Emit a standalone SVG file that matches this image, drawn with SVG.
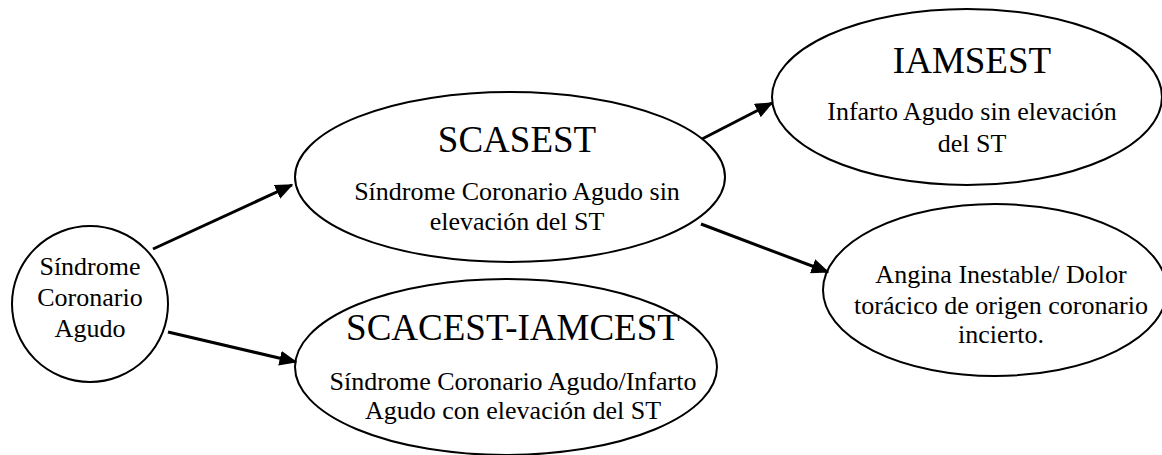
<svg xmlns="http://www.w3.org/2000/svg" width="1162" height="455" viewBox="0 0 1162 455">
<style>
.node{fill:#fff;stroke:#000;stroke-width:2}
.t{font-family:'Liberation Serif','Times New Roman',serif;font-size:37px;fill:#000;text-anchor:middle}
.b{font-family:'Liberation Serif','Times New Roman',serif;font-size:26px;fill:#000;text-anchor:middle}
.edge{stroke:#000;stroke-width:3;fill:none;marker-end:url(#ah)}
</style>
<defs>
<marker id="ah" markerWidth="6" markerHeight="5" refX="5.5" refY="2.5" orient="auto" markerUnits="strokeWidth">
<path d="M0,0 L6,2.5 L0,5 Z" fill="#000"/>
</marker>
</defs>
<rect width="1162" height="455" fill="#fff"/>
<g id="sca">
<ellipse class="node" cx="90" cy="304" rx="78" ry="78"/>
<text class="b" x="90" y="275">Síndrome</text>
<text class="b" x="90" y="306">Coronario</text>
<text class="b" x="90" y="337">Agudo</text>
</g>
<g id="scasest">
<ellipse class="node" cx="510" cy="177" rx="215" ry="85"/>
<text class="t" x="517" y="152">SCASEST</text>
<text class="b" x="517" y="200">Síndrome Coronario Agudo sin</text>
<text class="b" x="517" y="230">elevación del ST</text>
</g>
<g id="scacest">
<ellipse class="node" cx="506" cy="367" rx="211" ry="88"/>
<text class="t" x="513" y="340">SCACEST-IAMCEST</text>
<text class="b" x="513" y="390">Síndrome Coronario Agudo/Infarto</text>
<text class="b" x="513" y="419">Agudo con elevación del ST</text>
</g>
<g id="iamsest">
<ellipse class="node" cx="967" cy="97" rx="195" ry="88"/>
<text class="t" x="972" y="73">IAMSEST</text>
<text class="b" x="972" y="120">Infarto Agudo sin elevación</text>
<text class="b" x="972" y="152">del ST</text>
</g>
<g id="angina">
<ellipse class="node" cx="995" cy="290" rx="172" ry="86"/>
<text class="b" x="1001" y="283">Angina Inestable/ Dolor</text>
<text class="b" x="1001" y="314">torácico de origen coronario</text>
<text class="b" x="1001" y="343">incierto.</text>
</g>
<g id="connectors">
<line class="edge" x1="153" y1="249" x2="292" y2="185"/>
<line class="edge" x1="168" y1="332" x2="296" y2="362"/>
<line class="edge" x1="702" y1="139" x2="772" y2="103"/>
<line class="edge" x1="701" y1="224" x2="828" y2="272"/>
</g>
</svg>
